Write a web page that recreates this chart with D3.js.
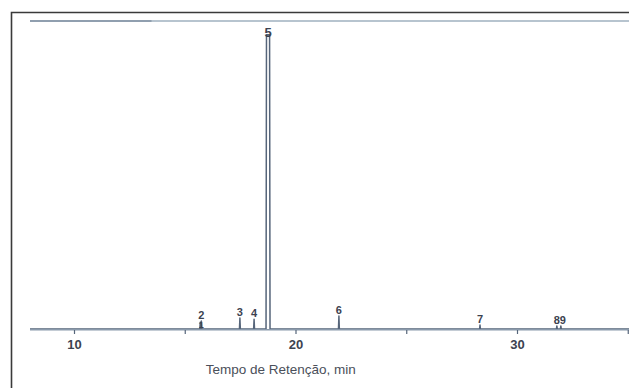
<!DOCTYPE html>
<html>
<head>
<meta charset="utf-8">
<script src="https://cdn.jsdelivr.net/npm/d3@7"></script>
<style>
  html, body { margin: 0; padding: 0; background: #fff; }
  svg { display: block; }
</style>
</head>
<body>
<svg id="chart" width="629" height="388"></svg>
<script>
// Peak identifiers, retention times (min) and relative heights (% full scale)
const peakLabels = ["1", "2", "3", "4", "5", "6", "7", "8", "9"];
const peakTimes = [15.70, 15.75, 17.49, 18.13, 18.76, 21.96, 28.33, 31.80, 31.98];
const peakHeights = [2.2, 2.6, 3.6, 3.2, 95.5, 4.2, 1.3, 1.0, 1.0];
// Label text drawn above each peak (overlapping pairs are written together)
const peakTags = ["", "2\u0332", "3", "4", "5", "6", "7", "89", ""];

// Axis ticks
const tickValues = [10, 15, 20, 25, 30, 35];
const tickLabels = ["10", "", "20", "", "30", ""];
const xTitle = "Tempo de Retenção, min";

const svg = d3.select("#chart");
const W = 629, H = 388;

const x = d3.scaleLinear().domain([10, 30]).range([74, 517]);
const y = d3.scaleLinear().domain([0, 100]).range([329, 21]);

const ink = "#56657a";
const textInk = "#3c4250";

// Outer frame (top and left edges visible)
svg.append("path")
  .attr("d", `M11.5,${H} V12.5 H${W}`)
  .attr("fill", "none")
  .attr("stroke", "#3a3a3a")
  .attr("stroke-width", 1.6);

// Full-scale reference line
const tStart = x.invert(30), tEnd = x.invert(W);
svg.append("line")
  .attr("x1", x(tStart)).attr("x2", x(tEnd))
  .attr("y1", y(100)).attr("y2", y(100))
  .attr("stroke", "#9fb0bf").attr("stroke-width", 1.6);
svg.append("line")
  .attr("x1", x(tStart)).attr("x2", x(13.5))
  .attr("y1", y(100)).attr("y2", y(100))
  .attr("stroke", "#8797a8").attr("stroke-width", 2.2)
  .attr("opacity", 0.8);

// Chromatogram trace built from the peak table
const pts = [[tStart, 0]];
peakTimes.forEach((t, i) => {
  const h = peakHeights[i];
  if (h > 50) {
    pts.push([t - 0.09, 0], [t - 0.07, h], [t + 0.07, h], [t + 0.09, 0]);
  } else {
    pts.push([t - 0.02, 0], [t, h], [t + 0.02, 0]);
  }
});
pts.push([tEnd, 0]);
pts.sort((a, b) => a[0] - b[0]);

const line = d3.line().x(d => x(d[0])).y(d => y(d[1]));
svg.append("path")
  .attr("d", line(pts))
  .attr("fill", "none")
  .attr("stroke", ink)
  .attr("stroke-width", 1.5)
  .attr("stroke-linejoin", "round");

// Baseline emphasis
svg.append("line")
  .attr("x1", x(tStart)).attr("x2", x(tEnd))
  .attr("y1", y(0) + 0.8).attr("y2", y(0) + 0.8)
  .attr("stroke", "#8a9aac").attr("stroke-width", 1.6);

// X axis ticks and labels
const axis = d3.axisBottom(x)
  .tickValues(tickValues)
  .tickSize(4)
  .tickFormat((d, i) => tickLabels[i]);
const gx = svg.append("g")
  .attr("transform", `translate(0,${y(0) + 1})`)
  .call(axis);
gx.select(".domain").remove();
gx.selectAll(".tick line").attr("stroke", ink).attr("stroke-width", 1.2);
gx.selectAll(".tick text")
  .attr("fill", textInk)
  .attr("font-family", "Liberation Sans, Arial, sans-serif")
  .attr("font-size", 13)
  .attr("font-weight", "bold")
  .attr("dy", "0.95em");

// Axis title
svg.append("text")
  .attr("x", x(15.95)).attr("y", 374)
  .attr("fill", "#4a4f5a")
  .attr("font-family", "Liberation Sans, Arial, sans-serif")
  .attr("font-size", 13.5)
  .text(xTitle);

// Peak labels
peakTimes.forEach((t, i) => {
  const tag = peakTags[i];
  if (!tag) return;
  const h = peakHeights[i];
  const big = h > 50;
  svg.append("text")
    .attr("x", x(t) + (tag === "89" ? 3 : 0))
    .attr("y", big ? y(h) + 2 : y(h) - 2)
    .attr("text-anchor", "middle")
    .attr("fill", textInk)
    .attr("font-family", "Liberation Sans, Arial, sans-serif")
    .attr("font-weight", "bold")
    .attr("font-size", big ? 13 : 11)
    .text(tag.replace("\u0332", ""));
});
// Peak 1 tag, tucked under the label for peak 2
svg.append("text")
  .attr("x", x(peakTimes[0]) + 1).attr("y", y(0) - 1)
  .attr("text-anchor", "middle")
  .attr("fill", textInk)
  .attr("font-family", "Liberation Sans, Arial, sans-serif")
  .attr("font-weight", "bold")
  .attr("font-size", 9)
  .text(peakLabels[0]);
</script>
</body>
</html>
